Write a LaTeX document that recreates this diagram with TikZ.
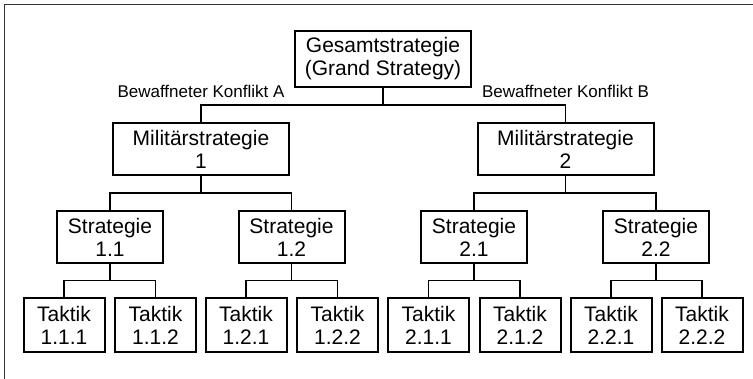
\documentclass[tikz,border=0pt]{standalone}
\usepackage{fontspec}
\setmainfont{Liberation Sans}
\usetikzlibrary{calc}
\tikzstyle{gbox}=[draw,line width=2pt,inner sep=0pt,minimum width=176pt,minimum height=56pt,align=center,font=\fontsize{21}{23}\selectfont]
\tikzstyle{mbox}=[gbox,minimum height=52pt]
\tikzstyle{sbox}=[gbox,minimum width=106pt,minimum height=52pt]
\tikzstyle{tbox}=[gbox,minimum width=81pt,minimum height=54pt]
\tikzstyle{lbl}=[anchor=base,inner sep=0pt,font=\fontsize{17}{19}\selectfont]
\tikzstyle{branch}=[line width=1.8pt,to path={(\tikztostart) |- ($(\tikztostart)!.5!(\tikztotarget)$) -| (\tikztotarget)}]

\begin{document}
\begin{tikzpicture}[x=1pt,y=-1pt]
  \useasboundingbox (0,0) rectangle (753,379);
  \draw[line width=1.4pt,black!80] (4.5,4.5) rectangle (770,390);

  \node[gbox] (gs) at (383,59) {Gesamtstrategie\\(Grand Strategy)};
  \node[mbox] (ms1) at (201,149) {Militärstrategie\\1};
  \node[mbox] (ms2) at (565.5,149) {Militärstrategie\\2};
  \node[lbl] (kA) at (201,98) {Bewaffneter Konflikt A};
  \node[lbl] (kB) at (565.5,98) {Bewaffneter Konflikt B};

  \node[sbox] (s11) at (110,237) {Strategie\\1.1};
  \node[sbox] (s12) at (291.5,237) {Strategie\\1.2};
  \node[sbox] (s21) at (474,237) {Strategie\\2.1};
  \node[sbox] (s22) at (656,237) {Strategie\\2.2};

  \node[tbox] (t111) at (64,325) {Taktik\\1.1.1};
  \node[tbox] (t112) at (155.5,325) {Taktik\\1.1.2};
  \node[tbox] (t121) at (246,325) {Taktik\\1.2.1};
  \node[tbox] (t122) at (337.5,325) {Taktik\\1.2.2};
  \node[tbox] (t211) at (428.5,325) {Taktik\\2.1.1};
  \node[tbox] (t212) at (520,325) {Taktik\\2.1.2};
  \node[tbox] (t221) at (611,325) {Taktik\\2.2.1};
  \node[tbox] (t222) at (702,325) {Taktik\\2.2.2};

  \draw[branch] (gs.south) to (ms1.north);
  \draw[branch] (gs.south) to (ms2.north);
  \draw[branch] (ms1.south) to (s11.north);
  \draw[branch] (ms1.south) to (s12.north);
  \draw[branch] (ms2.south) to (s21.north);
  \draw[branch] (ms2.south) to (s22.north);
  \draw[branch] (s11.south) to (t111.north);
  \draw[branch] (s11.south) to (t112.north);
  \draw[branch] (s12.south) to (t121.north);
  \draw[branch] (s12.south) to (t122.north);
  \draw[branch] (s21.south) to (t211.north);
  \draw[branch] (s21.south) to (t212.north);
  \draw[branch] (s22.south) to (t221.north);
  \draw[branch] (s22.south) to (t222.north);
\end{tikzpicture}
\end{document}
